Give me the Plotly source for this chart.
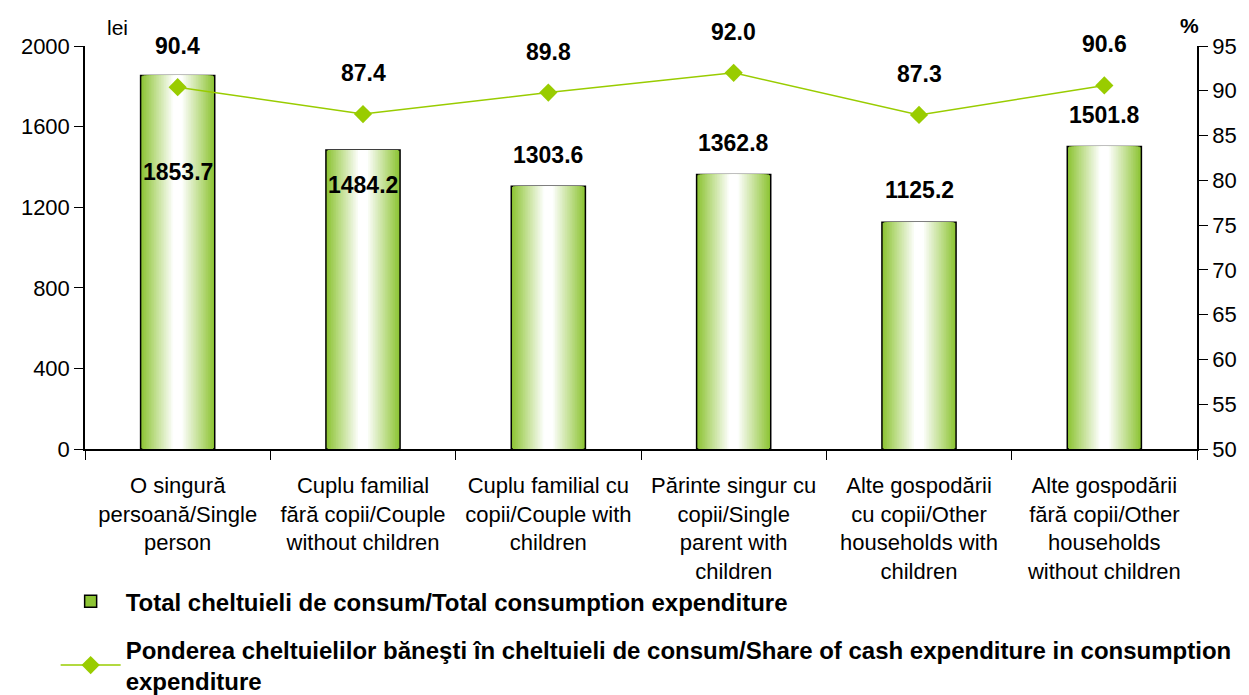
import plotly.graph_objects as go

categories = [
    "O singură<br>persoană/Single<br>person",
    "Cuplu familial<br>fără copii/Couple<br>without children",
    "Cuplu familial cu<br>copii/Couple with<br>children",
    "Părinte singur cu<br>copii/Single<br>parent with<br>children",
    "Alte gospodării<br>cu copii/Other<br>households with<br>children",
    "Alte gospodării<br>fără copii/Other<br>households<br>without children",
]
total_expenditure = [1853.7, 1484.2, 1303.6, 1362.8, 1125.2, 1501.8]
cash_share = [90.4, 87.4, 89.8, 92.0, 87.3, 90.6]

bar_name = "Total cheltuieli de consum/Total consumption expenditure"
line_name = ("Ponderea cheltuielilor băneşti în cheltuieli de consum/Share of cash expenditure in consumption"
             "<br>expenditure")

# label vertical offsets (px) for the bar value labels
bar_label_shift = [-97, -35, 31, 31, 32, 31]

FONT = "Liberation Sans, Arial, sans-serif"
edge = (141, 196, 52)
white = (255, 255, 255)

fig = go.Figure()

N = 22
bar_w = 0.4
for k in range(N):
    t = k / N
    c = tuple(round(edge[i] + (white[i] - edge[i]) * min(1, t * 1.15)) for i in range(3))
    first = k == 0
    fig.add_trace(go.Bar(
        x=categories, y=total_expenditure,
        width=bar_w * (1 - t),
        marker=dict(color=f"rgb{c}",
                    line=dict(color="black", width=1.5 if first else 0)),
        name=bar_name, showlegend=first, legendgroup="a",
        hoverinfo="skip" if not first else None,
    ))

fig.add_trace(go.Scatter(
    x=categories, y=cash_share, yaxis="y2", mode="lines+markers",
    line=dict(color="#99CC00", width=1.5),
    marker=dict(symbol="diamond", size=14, color="#99CC00"),
    name=line_name, legendgroup="b",
))

annotations = []
for cat, v, s in zip(categories, total_expenditure, bar_label_shift):
    annotations.append(dict(x=cat, y=v, xref="x", yref="y", text=f"<b>{v:.1f}</b>",
                            showarrow=False, yshift=s,
                            font=dict(family=FONT, size=23, color="black")))
for cat, v in zip(categories, cash_share):
    annotations.append(dict(x=cat, y=v, xref="x", yref="y2", text=f"<b>{v:.1f}</b>",
                            showarrow=False, yshift=41,
                            font=dict(family=FONT, size=23, color="black")))
annotations.append(dict(x=0.0288, y=1.045, xref="paper", yref="paper", text="lei",
                        xanchor="center", yanchor="middle",
                        showarrow=False, font=dict(family=FONT, size=21, color="black")))
annotations.append(dict(x=0.993, y=1.05, xref="paper", yref="paper", text="<b>%</b>",
                        xanchor="center", yanchor="middle",
                        showarrow=False, font=dict(family=FONT, size=21, color="black")))

# the page body adds an 8px offset, so the figure is 8px smaller on each far side
fig.update_layout(
    width=1241, height=687,
    margin=dict(l=77, r=52, t=38, b=246, autoexpand=False),
    paper_bgcolor="white", plot_bgcolor="white",
    barmode="overlay",
    font=dict(family=FONT, size=22, color="black"),
    showlegend=True,
    legend=dict(x=-0.0264, y=-0.323, xanchor="left", yanchor="top",
                traceorder="grouped", tracegroupgap=14,
                font=dict(family=FONT, size=24, color="black", weight="bold"),
                itemwidth=60, bgcolor="rgba(0,0,0,0)"),
    xaxis=dict(type="category", showline=True, linecolor="black", linewidth=1.5,
               ticks="outside", tickson="boundaries", ticklen=9, tickcolor="black",
               showgrid=False, tickfont=dict(size=22), ticklabelstandoff=16, automargin=False),
    yaxis=dict(range=[0, 2000], dtick=400, showline=True, linecolor="black", linewidth=1.5,
               ticks="outside", ticklen=9, tickcolor="black", showgrid=False, zeroline=False,
               tickfont=dict(size=22), automargin=False),
    yaxis2=dict(range=[50, 95], dtick=5, overlaying="y", side="right", showline=True,
                linecolor="black", linewidth=1.5, ticks="outside", ticklen=9, tickcolor="black",
                showgrid=False, zeroline=False, tickfont=dict(size=22), automargin=False),
    annotations=annotations,
)

fig.write_html("out.html")
